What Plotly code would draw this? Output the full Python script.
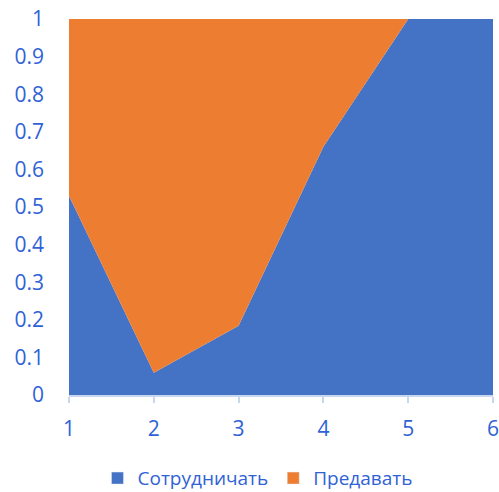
import plotly.graph_objects as go

x_vals = [1, 2, 3, 4, 5, 6]
cooperate = [0.53, 0.059, 0.184, 0.66, 1.0, 1.0]
betray = [0.47, 0.941, 0.816, 0.34, 0.0, 0.0]
series_names = ["Сотрудничать", "Предавать"]
y_tick_vals = [0, 0.1, 0.2, 0.3, 0.4, 0.5, 0.6, 0.7, 0.8, 0.9, 1]
y_tick_text = ["0", "0.1", "0.2", "0.3", "0.4", "0.5", "0.6", "0.7", "0.8", "0.9", "1"]

BLUE = "#4472C4"
ORANGE = "#ED7D31"
TXT = "#2F62D6"
AX = "#C9D6F0"

fig = go.Figure()
fig.add_trace(go.Scatter(x=x_vals, y=cooperate, name=series_names[0], mode="none",
                         stackgroup="one", fillcolor=BLUE, showlegend=False))
fig.add_trace(go.Scatter(x=x_vals, y=betray, name=series_names[1], mode="none",
                         stackgroup="one", fillcolor=ORANGE, showlegend=False))
# legend-only entries (square swatches)
fig.add_trace(go.Bar(x=[None], y=[None], name=series_names[0], marker_color=BLUE))
fig.add_trace(go.Bar(x=[None], y=[None], name=series_names[1], marker_color=ORANGE))

fig.update_layout(
    width=499, height=492,
    margin=dict(l=69, r=6, t=19, b=97),
    paper_bgcolor="white", plot_bgcolor="white",
    font=dict(family="Open Sans", size=20, color=TXT),
    showlegend=True,
    legend=dict(orientation="h", x=0.516, xanchor="center", xref="container",
                y=0.028, yref="container", yanchor="middle",
                font=dict(size=19, color=TXT), traceorder="normal",
                itemwidth=30),
    shapes=[dict(type="line", xref="paper", yref="y", x0=0, x1=1, y0=1, y1=1,
                 line=dict(color=AX, width=1.5), layer="below")],
)
fig.update_xaxes(range=[1, 6], tickvals=x_vals, showgrid=False, zeroline=False,
                 showline=True, linecolor=AX, linewidth=1.5, automargin=False,
                 ticks="outside", ticklen=6, tickcolor=AX, tickwidth=1.5,
                 ticklabeloverflow="allow",
                 tickfont=dict(size=21, color=TXT), ticklabelstandoff=8)
fig.update_yaxes(range=[0, 1], tickvals=y_tick_vals, ticktext=y_tick_text,
                 showgrid=False, zeroline=False, showline=False, ticks="",
                 automargin=False, ticklabeloverflow="allow",
                 tickfont=dict(size=21, color=TXT), ticklabelstandoff=24)

fig.write_html(
    "out.html",
    config={"displayModeBar": False},
    post_script="document.body.style.margin='0';document.body.style.overflow='hidden';",
)
